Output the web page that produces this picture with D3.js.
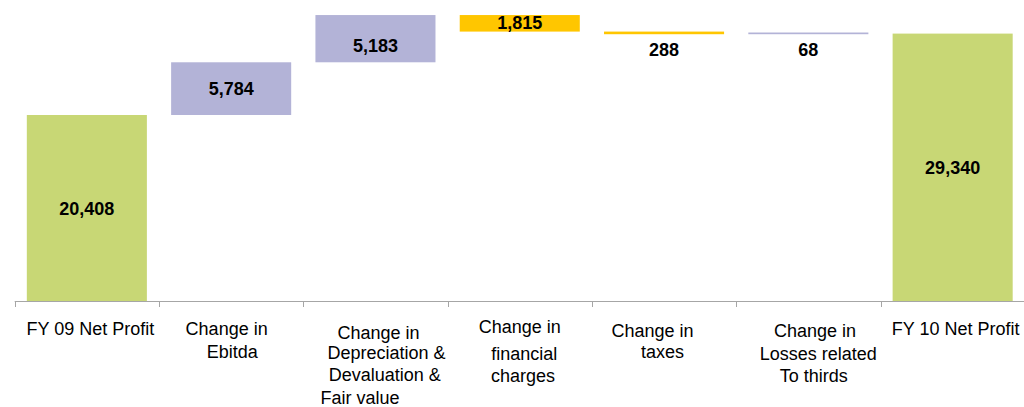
<!DOCTYPE html>
<html>
<head>
<meta charset="utf-8">
<script src="https://cdn.jsdelivr.net/npm/d3@7"></script>
<style>
  html, body { margin: 0; padding: 0; background: #fff; }
  svg { display: block; font-family: "Liberation Sans", Arial, sans-serif; }
</style>
</head>
<body>
<svg id="chart" width="1024" height="407"></svg>
<script>
// Net profit bridge FY 09 -> FY 10
const categories = [
  "FY 09 Net Profit",
  "Change in Ebitda",
  "Change in Depreciation & Devaluation & Fair value",
  "Change in financial charges",
  "Change in taxes",
  "Change in Losses related To thirds",
  "FY 10 Net Profit"
];
const categoryLines = [
  ["FY 09 Net Profit"],
  ["Change in", "Ebitda"],
  ["Change in", "Depreciation &", "Devaluation &", "Fair value"],
  ["Change in", "financial", "charges"],
  ["Change in", "taxes"],
  ["Change in", "Losses related", "To thirds"],
  ["FY 10 Net Profit"]
];
// step kind: total bar, increase, decrease
const kinds = ["total", "up", "up", "down", "down", "up", "total"];
const values = [20408, 5784, 5183, 1815, 288, 68, 29340];

// ---- layout ----
const W = 1024, H = 407;
const baseY = 301;
const pxPerUnit = 0.009114;
const colors = { total: "#c8d775", up: "#b3b3d7", down: "#ffc600" };

// label placement: vertical nudge of value labels from the bar middle
const valueDy = [1, 0.5, 7.5, -1, 16.5, 15.5, 0.5];
// category label lines: horizontal nudge from band centre and baseline
const lineLayout = [
  [[3.5, 335]],
  [[-4.5, 335], [1, 357.7]],
  [[3, 339.3], [11, 358.5], [9.3, 380.7], [-15.5, 404]],
  [[0, 333.3], [4.5, 360], [3.3, 381.7]],
  [[-11.5, 336.7], [-1.5, 357.7]],
  [[6.7, 336.7], [10, 360], [5.5, 381.7]],
  [[3, 335]]
];

const svg = d3.select("#chart");

const x = d3.scaleBand()
  .domain(categories)
  .range([14.7, 1024.8])
  .paddingInner(0.168)
  .paddingOuter(0.084);
const step = x.step();

const y = d3.scaleLinear()
  .domain([0, baseY / pxPerUnit])
  .range([baseY, 0]);

// running totals -> floating segments
let run = 0;
const bars = values.map((v, i) => {
  let lo, hi;
  if (kinds[i] === "total") { lo = 0; hi = v; run = v; }
  else if (kinds[i] === "up") { lo = run; hi = run + v; run = hi; }
  else { hi = run; lo = run - v; run = lo; }
  return { cat: categories[i], kind: kinds[i], value: v, lo, hi, i };
});

const minH = 1.7;
svg.append("g").selectAll("rect")
  .data(bars)
  .join("rect")
  .attr("x", d => x(d.cat))
  .attr("width", x.bandwidth())
  .attr("y", d => {
    const h = y(d.lo) - y(d.hi);
    return h < minH ? y(d.lo) - minH : y(d.hi);
  })
  .attr("height", d => Math.max(minH, y(d.lo) - y(d.hi)))
  .attr("fill", d => colors[d.kind]);

// axis line with boundary ticks
const axis = svg.append("g").attr("stroke", "#a6a6a6").attr("stroke-width", 1);
axis.append("line")
  .attr("x1", 14.7).attr("x2", W + 1)
  .attr("y1", baseY + 0.5).attr("y2", baseY + 0.5);
const bounds = categories.map(c => x(c) - step * x.paddingInner() / 2);
bounds.push(bounds[bounds.length - 1] + step);
axis.selectAll("line.tick")
  .data(bounds)
  .join("line")
  .attr("class", "tick")
  .attr("x1", d => Math.round(d) + 0.5).attr("x2", d => Math.round(d) + 0.5)
  .attr("y1", baseY).attr("y2", baseY + 6);

// value labels
const fmt = d3.format(",");
svg.append("g").selectAll("text")
  .data(bars)
  .join("text")
  .attr("x", d => x(d.cat) + x.bandwidth() / 2)
  .attr("y", d => (y(d.lo) + y(d.hi)) / 2 + valueDy[d.i])
  .attr("dy", "0.35em")
  .attr("text-anchor", "middle")
  .attr("font-size", 18)
  .attr("font-weight", "bold")
  .attr("fill", "#000")
  .text(d => fmt(d.value));

// category labels
const catG = svg.append("g");
categories.forEach((c, i) => {
  const cx = x(c) + x.bandwidth() / 2;
  categoryLines[i].forEach((line, j) => {
    const [dx, by] = lineLayout[i][j];
    catG.append("text")
      .attr("x", cx + dx)
      .attr("y", by)
      .attr("text-anchor", "middle")
      .attr("font-size", 18)
      .attr("fill", "#000")
      .text(line);
  });
});
</script>
</body>
</html>
